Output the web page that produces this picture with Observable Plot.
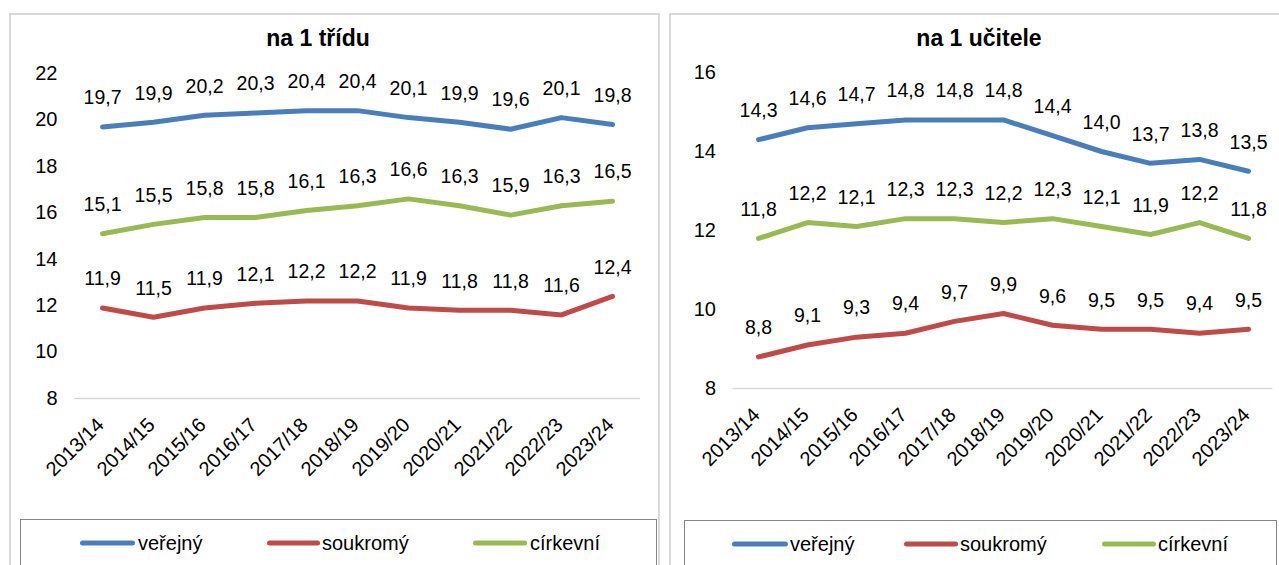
<!DOCTYPE html>
<html><head><meta charset="utf-8">
<script src="https://cdn.jsdelivr.net/npm/d3@7"></script>
<script src="https://cdn.jsdelivr.net/npm/@observablehq/plot@0.6"></script>
<style>
body{margin:0;background:#fff;font-family:"Liberation Sans",Arial,sans-serif;width:1279px;height:565px;overflow:hidden;position:relative}
.panel{position:absolute;border:2px solid #d9d9d9;box-sizing:border-box}
.title{position:absolute;font-weight:bold;font-size:23px;transform:translate(-50%,-50%);white-space:nowrap;color:#000}
.legend{position:absolute;border:1.5px solid #868686;box-sizing:border-box}
.sw{position:absolute;height:5px;border-radius:3px;transform:translateY(-50%)}
.lt{position:absolute;font-size:20px;transform:translateY(-50%);white-space:nowrap;color:#000}
.plot{position:absolute;top:0}
</style></head><body>
<script>
// ---- data ----
const years = ["2013/14","2014/15","2015/16","2016/17","2017/18","2018/19","2019/20","2020/21","2021/22","2022/23","2023/24"];
const seriesNames = ["veřejný","soukromý","církevní"];
const seriesColors = ["#4A7EBB","#BE4B48","#98B954"];

const tridaVerejny  = [19.7,19.9,20.2,20.3,20.4,20.4,20.1,19.9,19.6,20.1,19.8];
const tridaSoukromy = [11.9,11.5,11.9,12.1,12.2,12.2,11.9,11.8,11.8,11.6,12.4];
const tridaCirkevni = [15.1,15.5,15.8,15.8,16.1,16.3,16.6,16.3,15.9,16.3,16.5];

const ucitelVerejny  = [14.3,14.6,14.7,14.8,14.8,14.8,14.4,14.0,13.7,13.8,13.5];
const ucitelSoukromy = [8.8,9.1,9.3,9.4,9.7,9.9,9.6,9.5,9.5,9.4,9.5];
const ucitelCirkevni = [11.8,12.2,12.1,12.3,12.3,12.2,12.3,12.1,11.9,12.2,11.8];

const yTicksTrida = [8,10,12,14,16,18,20,22];
const yTicksUcitel = [8,10,12,14,16];
const titles = ["na 1 třídu","na 1 učitele"];

// ---- layout ----
const panels = [
  {title:titles[0], series:[tridaVerejny,tridaSoukromy,tridaCirkevni], ticks:yTicksTrida,
   svgLeft:0, width:660, height:515, mL:74, mR:20, mT:73, mB:117,
   box:{left:9,top:13,width:651,height:580}, titleX:318, titleY:38,
   legBox:{left:20,top:519,width:637,height:80},
   leg:[{x0:80,x1:135,t:138},{x0:267,x1:320,t:322},{x0:473,x1:527,t:530}], legY:543},
  {title:titles[1], series:[ucitelVerejny,ucitelSoukromy,ucitelCirkevni], ticks:yTicksUcitel,
   svgLeft:660, width:619, height:515, mL:72.5, mR:6.5, mT:72, mB:127,
   box:{left:669,top:13,width:640,height:580}, titleX:979, titleY:38,
   legBox:{left:684,top:520,width:593,height:80},
   leg:[{x0:732,x1:788,t:790},{x0:904,x1:958,t:960},{x0:1102,x1:1156,t:1158}], legY:544}
];

const fmt = v => v.toFixed(1).replace(".", ",");

function div(cls, css, text){
  const d = document.createElement("div");
  d.className = cls;
  Object.assign(d.style, css);
  if (text != null) d.textContent = text;
  document.body.appendChild(d);
  return d;
}

for (const p of panels) {
  div("panel", {left:p.box.left+"px", top:p.box.top+"px", width:p.box.width+"px", height:p.box.height+"px"});
  const rows = [];
  p.series.forEach((vals, si) => vals.forEach((v, i) => rows.push({year: years[i], value: v, series: seriesNames[si]})));
  const chart = Plot.plot({
    width: p.width, height: p.height,
    marginLeft: p.mL, marginRight: p.mR, marginTop: p.mT, marginBottom: p.mB,
    style: {fontFamily: '"Liberation Sans", Arial, sans-serif', fontSize: "19px", color: "#000", background: "transparent", overflow: "visible"},
    x: {type: "point", domain: years, padding: 0.5, axis: null},
    y: {domain: [p.ticks[0], p.ticks[p.ticks.length-1]], label: null},
    color: {domain: seriesNames, range: seriesColors},
    marks: [
      Plot.ruleY([p.ticks[0]], {stroke: "#d9d9d9", strokeWidth: 1.5}),
      Plot.axisY(p.ticks, {tickSize: 0, tickPadding: 17, fontSize: 20, fill: "#000", label: null}),
      Plot.line(rows, {x: "year", y: "value", z: "series", stroke: "series", strokeWidth: 5, strokeLinecap: "round", strokeLinejoin: "round"}),
      Plot.text(rows, {x: "year", y: "value", text: d => fmt(d.value), dy: -29, fontSize: 19.5, fill: "#000"}),
      Plot.text(years, {x: d => d, frameAnchor: "bottom", rotate: -45, textAnchor: "end", lineAnchor: "middle", dy: 23, dx: -2, fontSize: 20, fill: "#000"})
    ]
  });
  chart.classList.add("plot");
  chart.style.left = p.svgLeft + "px";
  chart.style.position = "absolute";
  chart.style.top = "0px";
  document.body.appendChild(chart);
  div("title", {left:p.titleX+"px", top:p.titleY+"px"}, p.title);
  div("legend", {left:p.legBox.left+"px", top:p.legBox.top+"px", width:p.legBox.width+"px", height:p.legBox.height+"px"});
  p.leg.forEach((l, i) => {
    div("sw", {left:l.x0+"px", width:(l.x1-l.x0)+"px", top:p.legY+"px", background:seriesColors[i]});
    div("lt", {left:l.t+"px", top:p.legY+"px"}, seriesNames[i]);
  });
}
</script>
</body></html>
